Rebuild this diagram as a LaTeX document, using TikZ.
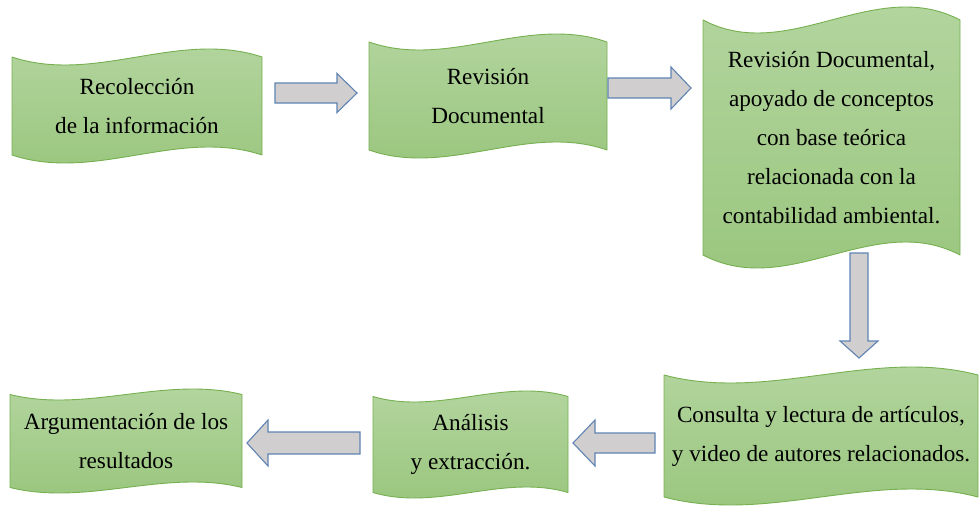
\documentclass[tikz,border=0pt]{standalone}
\usepackage{fontspec}
\setmainfont{Liberation Serif}
\newfontfamily\tnrfont{Liberation Serif}
\usetikzlibrary{calc}
\definecolor{tapetop}{HTML}{B5D6A1}
\definecolor{tapebot}{HTML}{98C57C}
\definecolor{tapeline}{HTML}{76B051}
\definecolor{arrfill}{HTML}{D0CECE}
\definecolor{arrline}{HTML}{5F84B3}
\tikzset{
  tape/.style={draw=tapeline, line width=0.9pt, top color=tapetop, bottom color=tapebot, line join=round},
  tapetext/.style={align=center, inner sep=0pt, text=black, font=\tnrfont\fontsize{23.2}{39}\selectfont},
  barrow/.style={draw=arrline, line width=1.1pt, fill=arrfill, line join=miter}
}
% #1 name, #2 x, #3 w, #4 top extreme, #5 bottom extreme, #6 wave amplitude, #7 text
\newcommand{\tapebox}[7]{%
  \path[tape] (#2,#4+#6)
    .. controls ({#2+#3/3},{#4+#6+3.464*#6}) and ({#2+2*#3/3},{#4+#6-3.464*#6}) .. (#2+#3,#4+#6)
    -- (#2+#3,#5-#6)
    .. controls ({#2+2*#3/3},{#5-#6-3.464*#6}) and ({#2+#3/3},{#5-#6+3.464*#6}) .. (#2,#5-#6)
    -- cycle;
  \node[tapetext] (#1) at ({#2+#3/2},{(#4+#5)/2}) {#7};}
% #1 tail coordinate, #2 rotation, #3 length, #4 shaft half width, #5 head half width, #6 head length
\newcommand{\blockarrow}[6]{%
  \draw[barrow, shift={(#1)}, rotate=#2] (0,-#4) -- (#3-#6,-#4) -- (#3-#6,-#5) -- (#3,0)
    -- (#3-#6,#5) -- (#3-#6,#4) -- (0,#4) -- cycle;}
\begin{document}
\begin{tikzpicture}[x=1pt,y=-1pt]
\useasboundingbox (0,0) rectangle (980,506);
\tapebox{b1}{12}{250}{49}{163}{8}{Recolección\\de la información}
\tapebox{b2}{369}{238}{34}{158}{8}{Revisión\\Documental}
\tapebox{b3}{703}{257}{7}{268}{13}{Revisión Documental,\\apoyado de conceptos\\con base teórica\\relacionada con la\\contabilidad ambiental.}
\tapebox{b4}{664}{314}{367}{505}{8}{Consulta y lectura de artículos,\\y video de autores relacionados.}
\tapebox{b5}{373}{195}{391}{498}{5.5}{Análisis\\y extracción.}
\tapebox{b6}{10}{232}{389}{493}{5.5}{Argumentación de los\\resultados}
\coordinate (t1) at (275,93);
\coordinate (t2) at (608,88);
\coordinate (t3) at (859,253);
\coordinate (t4) at (655,443);
\coordinate (t5) at (360,443);
\blockarrow{t1}{0}{82}{10}{19.5}{20}
\blockarrow{t2}{0}{83}{10}{21}{20}
\blockarrow{t3}{-90}{105}{9}{19}{17}
\blockarrow{t4}{180}{82}{10}{23}{22}
\blockarrow{t5}{180}{113}{11}{23}{21}
\end{tikzpicture}
\end{document}
